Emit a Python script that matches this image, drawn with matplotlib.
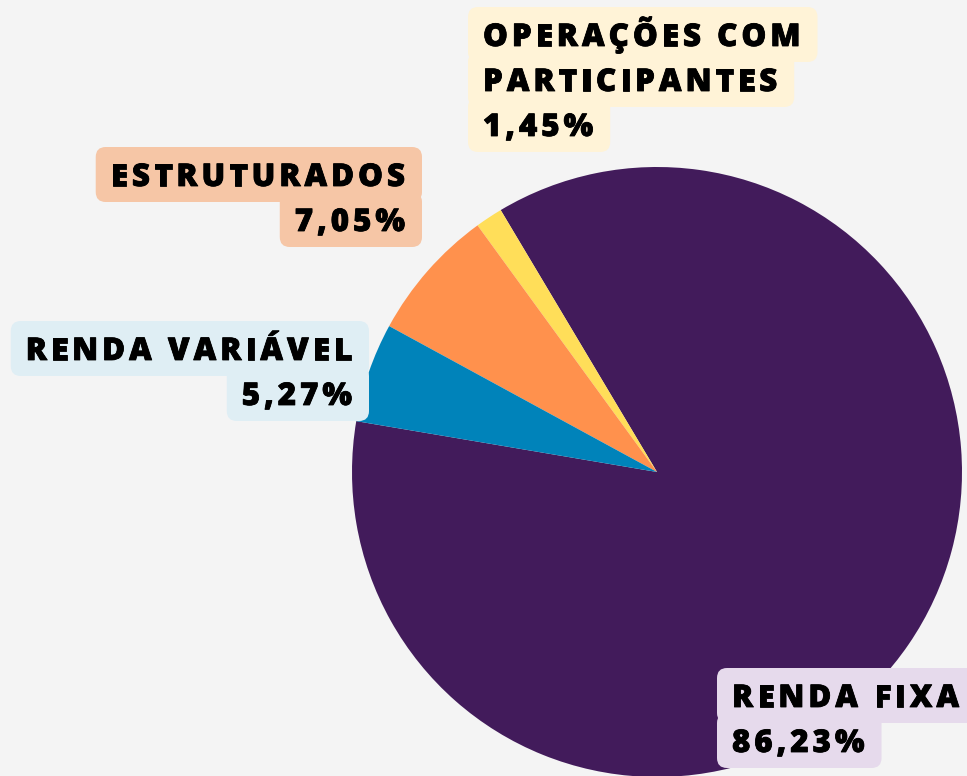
import matplotlib
matplotlib.use("Agg")
import matplotlib.pyplot as plt
import matplotlib.patheffects as pe
from matplotlib.patches import FancyBboxPatch
from matplotlib.font_manager import FontProperties, findfont, get_font

W, H = 967, 776
BG = "#F4F4F4"

# data, in drawing order (counter-clockwise from the start angle)
categories = ["RENDA FIXA", "OPERAÇÕES COM\nPARTICIPANTES", "ESTRUTURADOS", "RENDA VARIÁVEL"]
shares = [86.23, 1.45, 7.05, 5.27]
slice_colors = ["#421B5B", "#FFDE59", "#FF914D", "#0083BA"]
box_colors = ["#E6DAEC", "#FFF3D7", "#F6C6A6", "#DFEEF4"]

# label anchors in pixels: x of text edge, baseline of first line, alignment
label_pos = [(732, 707, "left"), (483, 46, "left"), (405, 186, "right"), (352, 360, "right")]

FONT = FontProperties(family="Open Sans", weight="heavy", size=22.5)
TRACK = 4.0       # extra letter spacing, px
LINE_H = 45
PAD_L, PAD_R = 15, 17
THICK = [pe.withStroke(linewidth=0.6, foreground="black")]


def advances(s):
    font = get_font(findfont(FONT))
    font.set_size(FONT.get_size_in_points(), 100)
    out = []
    for c in s:
        g = font.load_char(ord(c))
        out.append(g.linearHoriAdvance / 65536)
    return out


def tracked_text(ax, s, x, y, align):
    adv = advances(s)
    width = sum(adv) + TRACK * (len(s) - 1)
    x0 = x if align == "left" else x - width
    cx = x0
    for c, a in zip(s, adv):
        ax.text(cx, H - y, c, fontproperties=FONT, color="black",
                ha="left", va="baseline", zorder=5, path_effects=THICK)
        cx += a + TRACK
    return x0, x0 + width


fig = plt.figure(figsize=(W / 100, H / 100), dpi=100, facecolor=BG)
ax = fig.add_axes([0, 0, 1, 1])
ax.set_facecolor(BG)

ax.pie(shares, colors=slice_colors, startangle=170.4, counterclock=True,
       center=(657, H - 472), radius=305, wedgeprops=dict(linewidth=0))

for cat, val, col, (x, y, align) in zip(categories, shares, box_colors, label_pos):
    lines = cat.split("\n") + [f"{val:.2f}".replace(".", ",") + "%"]
    for i, line in enumerate(lines):
        by = y + i * LINE_H
        l, r = tracked_text(ax, line, x, by, align)
        box = FancyBboxPatch((l - PAD_L, H - (by + 16)), (r - l) + PAD_L + PAD_R, 55,
                             boxstyle="round,pad=0,rounding_size=10",
                             facecolor=col, edgecolor="none", zorder=3)
        ax.add_patch(box)

ax.set_xlim(0, W)
ax.set_ylim(0, H)
ax.set_aspect("equal")
ax.axis("off")

fig.savefig("out.png", dpi=100, facecolor=BG)
